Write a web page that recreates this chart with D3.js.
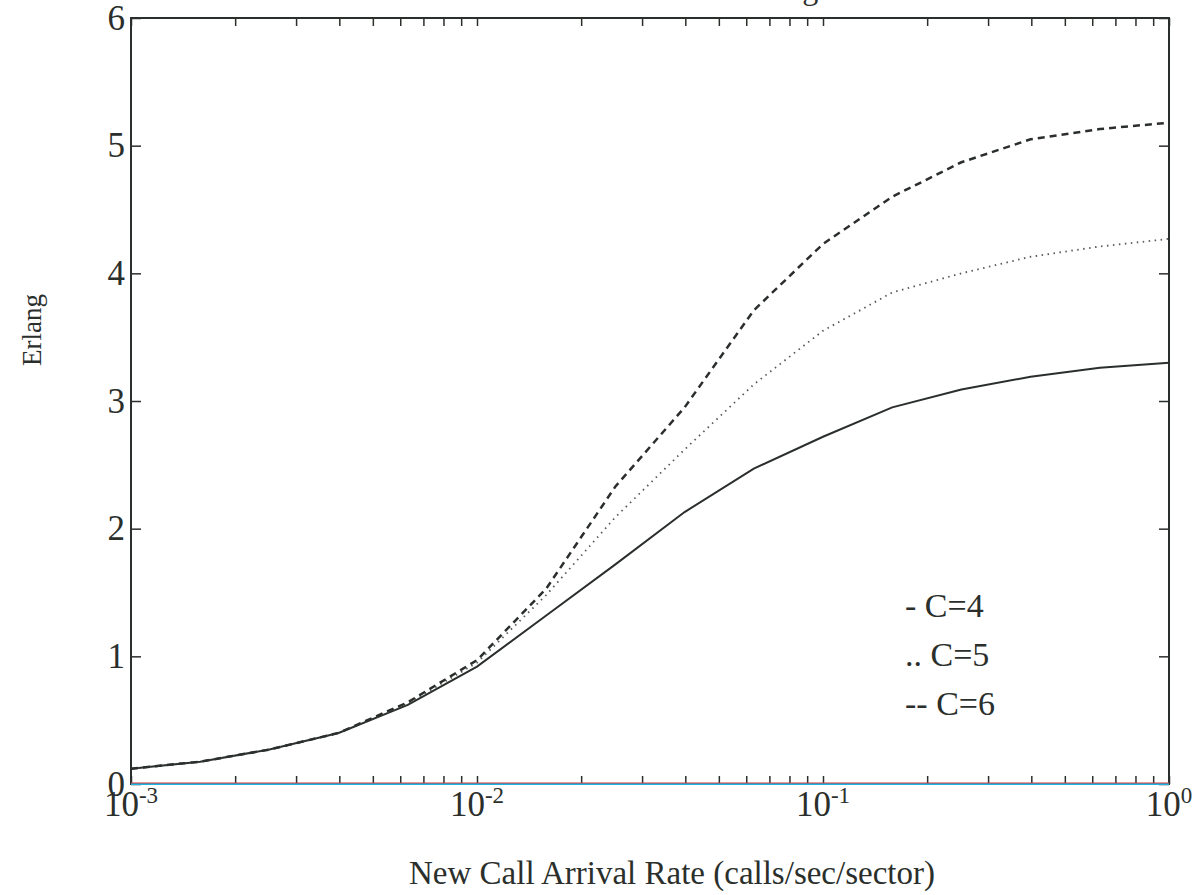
<!DOCTYPE html>
<html>
<head>
<meta charset="utf-8">
<script src="https://cdn.jsdelivr.net/npm/d3@7"></script>
<style>
  body { margin: 0; background: #fff; }
  svg { display: block; font-family: "Liberation Serif", "DejaVu Serif", serif; }
</style>
</head>
<body>
<div id="chart"></div>
<script>
// arrival rate samples (calls/sec/sector)
var rates = [0.001, 0.001585, 0.002512, 0.003981, 0.00631, 0.01, 0.01585, 0.02512,
             0.03981, 0.0631, 0.1, 0.1585, 0.2512, 0.3981, 0.631, 1];

// carried traffic in Erlang
var c4 = [0.12, 0.175, 0.27, 0.40, 0.62, 0.92, 1.32, 1.72, 2.13, 2.47, 2.72, 2.95, 3.09, 3.19, 3.26, 3.30];
var c5 = [0.12, 0.175, 0.27, 0.40, 0.63, 0.95, 1.48, 2.09, 2.62, 3.13, 3.55, 3.85, 4.00, 4.13, 4.21, 4.27];
var c6 = [0.12, 0.175, 0.27, 0.40, 0.64, 0.97, 1.53, 2.33, 2.95, 3.71, 4.23, 4.60, 4.87, 5.05, 5.13, 5.18];
// two flat traces lying on the axis
var flatRed  = [0.008, 0.008, 0.008, 0.008, 0.008, 0.008, 0.008, 0.008, 0.008, 0.008, 0.008, 0.008, 0.008, 0.008, 0.008, 0.008];
var flatCyan = [0, 0, 0, 0, 0, 0, 0, 0, 0, 0, 0, 0, 0, 0, 0, 0];

var yTicks = [0, 1, 2, 3, 4, 5, 6];
var decades = [0.001, 0.01, 0.1, 1];
var decadeExp = ['-3', '-2', '-1', '0'];
var legendLabels = ['- C=4', '.. C=5', '-- C=6'];

var W = 1192, H = 895;
var margin = {left: 131, right: 23, top: 18, bottom: 111};
var INK = '#2b2f2c';

var svg = d3.select('#chart').append('svg')
  .attr('width', W).attr('height', H);

var x = d3.scaleLog().domain([0.001, 1]).range([margin.left, W - margin.right]);
var y = d3.scaleLinear().domain([0, 6]).range([H - margin.bottom, margin.top]);

// title sits above the page edge in the scan, only descenders show
svg.append('text')
  .attr('x', 660).attr('y', -1)
  .attr('text-anchor', 'middle')
  .attr('font-size', 32).attr('fill', INK)
  .text('Carried Traffic in Erlang');

// minor/major ticks, all pointing inward
var xMinor = x.ticks();
svg.append('g')
  .attr('transform', 'translate(0,' + y(0) + ')')
  .call(d3.axisBottom(x).tickValues(xMinor).tickSize(-8).tickFormat(''))
  .call(function(g) { g.select('.domain').remove(); })
  .selectAll('line').attr('stroke', INK).attr('stroke-width', 1.5);

svg.append('g')
  .attr('transform', 'translate(0,' + y(6) + ')')
  .call(d3.axisTop(x).tickValues(xMinor).tickSize(-8).tickFormat(''))
  .call(function(g) { g.select('.domain').remove(); })
  .selectAll('line').attr('stroke', INK).attr('stroke-width', 1.5);

var yl = svg.append('g')
  .attr('transform', 'translate(' + x(0.001) + ',0)')
  .call(d3.axisLeft(y).tickValues(yTicks).tickSize(-10).tickPadding(6).tickFormat(d3.format('d')))
  .call(function(g) { g.select('.domain').remove(); });
yl.selectAll('line').attr('stroke', INK).attr('stroke-width', 1.5);
yl.selectAll('text')
  .attr('font-family', '"Liberation Serif", serif')
  .attr('font-size', 35).attr('fill', INK);

svg.append('g')
  .attr('transform', 'translate(' + x(1) + ',0)')
  .call(d3.axisRight(y).tickValues(yTicks).tickSize(-10).tickFormat(''))
  .call(function(g) { g.select('.domain').remove(); })
  .selectAll('line').attr('stroke', INK).attr('stroke-width', 1.5);

// frame
svg.append('rect')
  .attr('x', x(0.001)).attr('y', y(6))
  .attr('width', x(1) - x(0.001)).attr('height', y(0) - y(6))
  .attr('fill', 'none').attr('stroke', INK).attr('stroke-width', 2);

// decade labels with superscript exponent
var xl = svg.append('g').selectAll('text')
  .data(decades)
  .join('text')
  .attr('x', function(d) { return x(d); })
  .attr('y', y(0) + 32)
  .attr('text-anchor', 'middle')
  .attr('font-size', 35).attr('fill', INK);
xl.append('tspan').text('10');
xl.append('tspan')
  .attr('font-size', 23).attr('dy', -13)
  .text(function(d, i) { return decadeExp[i]; });

// axis titles
svg.append('text')
  .attr('x', (x(0.001) + x(1)) / 2 + 22).attr('y', 884)
  .attr('text-anchor', 'middle')
  .attr('font-size', 33).attr('fill', INK)
  .text('New Call Arrival Rate (calls/sec/sector)');

svg.append('text')
  .attr('transform', 'translate(41,' + 330 + ') rotate(-90)')
  .attr('text-anchor', 'middle')
  .attr('font-size', 27).attr('fill', INK)
  .text('Erlang');

// curves
var line = d3.line()
  .x(function(d) { return x(d[0]); })
  .y(function(d) { return y(d[1]); });

function zipRates(vals) {
  return rates.map(function(r, i) { return [r, vals[i]]; });
}

var series = [
  {vals: flatCyan, stroke: '#19b4e6', width: 2, dash: null},
  {vals: flatRed,  stroke: '#d23a3a', width: 1.2, dash: null},
  {vals: c4, stroke: INK, width: 2, dash: null},
  {vals: c5, stroke: '#555a57', width: 1.8, dash: '1.5,4.5'},
  {vals: c6, stroke: INK, width: 2.5, dash: '7,5'}
];

svg.append('g').selectAll('path')
  .data(series)
  .join('path')
  .attr('d', function(s) { return line(zipRates(s.vals)); })
  .attr('fill', 'none')
  .attr('stroke', function(s) { return s.stroke; })
  .attr('stroke-width', function(s) { return s.width; })
  .attr('stroke-dasharray', function(s) { return s.dash; });

// legend as plain text, like the original
svg.append('g').selectAll('text')
  .data(legendLabels)
  .join('text')
  .attr('x', 905)
  .attr('y', function(d, i) { return 617 + i * 49; })
  .attr('font-size', 34).attr('fill', INK)
  .text(function(d) { return d; });
</script>
</body>
</html>
